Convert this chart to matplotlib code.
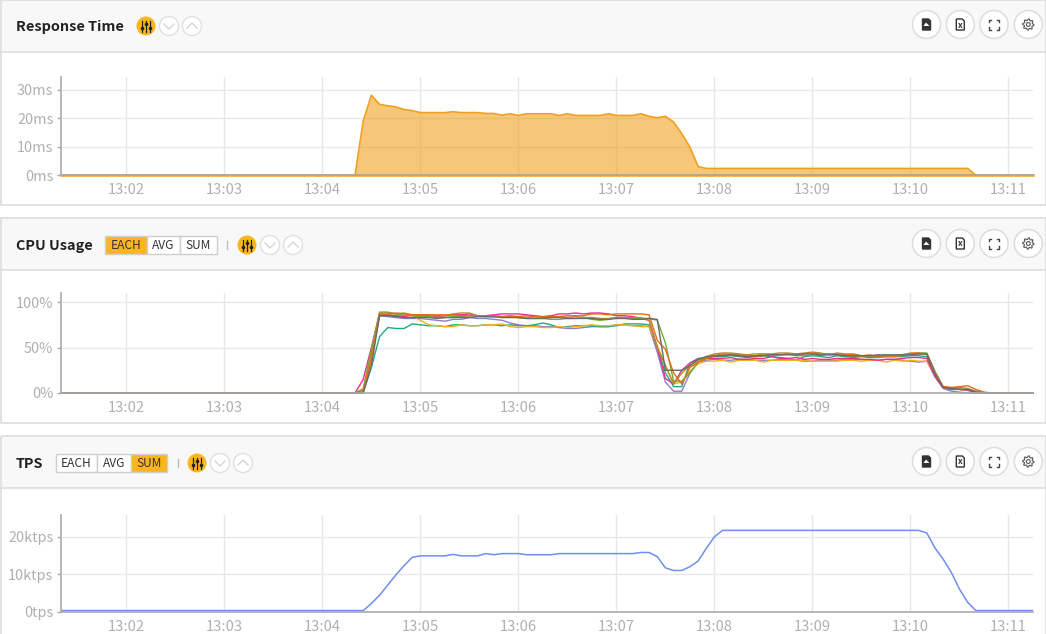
#Recreate the Response Time / CPU Usage / TPS dashboard panels
import matplotlib
matplotlib.use('Agg')
import matplotlib.pyplot as plt
import numpy as np
from matplotlib.patches import Circle, Rectangle, Polygon

plt.rcParams['font.family'] = ['Noto Sans CJK KR', 'DejaVu Sans']

#Figure size in pixels
W = 1046
H = 634

#Time axis is in seconds after 13:00
x_start = 80
x_end = 675
tick_seconds = [120, 180, 240, 300, 360, 420, 480, 540, 600, 660]
tick_labels = ['13:02', '13:03', '13:04', '13:05', '13:06', '13:07', '13:08', '13:09', '13:10', '13:11']

#Response time in ms, every 5s from 13:04:20 to 13:07:55
resp_ms = [0, 19, 28, 24.8, 24.3, 23.9, 23, 22.6,
           21.9, 21.9, 21.9, 21.9, 22.2, 21.9, 21.9, 21.9, 21.6, 21.6, 21.0, 21.5,
           20.9, 21.5, 21.5, 21.5, 21.5, 20.9, 21.5, 20.9, 20.9, 20.9, 20.9, 21.5,
           20.9, 20.9, 20.9, 21.5, 20.6, 20.1, 20.6, 18.6, 14.5, 9.8, 3, 2.3]
#flat part up to the drop at 13:10:40
resp_flat_end = [635, 2.3]
resp_end = [640, 0]

#CPU usage per server in %, every 5s from 13:04:15 to 13:10:50
cpu_purple = [0, 0, 4, 40, 85, 84, 83, 82, 82,
              82, 81, 80, 79, 81, 81, 83, 82, 82, 81, 80, 77,
              75, 74, 74, 73, 73, 72, 71, 71, 72, 73, 73, 73,
              75, 75, 74, 74, 73, 45, 12, 2, 2, 22, 34, 36,
              37, 36, 36, 37, 37, 36, 36, 36, 37, 37, 36, 35,
              35, 36, 36, 36, 37, 37, 37, 36, 36, 37, 37, 36,
              35, 34, 35, 18, 5, 2, 1, 0, 0, 0, 0]
cpu_teal = [0, 0, 1, 28, 62, 72, 71, 71, 76,
            75, 74, 74, 73, 75, 75, 74, 74, 75, 75, 74, 75,
            74, 74, 75, 77, 75, 72, 73, 74, 74, 74, 73, 73,
            74, 76, 76, 76, 75, 50, 22, 7, 7, 33, 38, 39,
            40, 40, 41, 40, 39, 40, 41, 40, 39, 38, 36, 40,
            41, 40, 39, 41, 40, 39, 40, 39, 39, 40, 40, 40,
            41, 41, 40, 20, 6, 4, 4, 3, 1, 0, 0]
cpu_yellow = [0, 0, 5, 45, 86, 86, 85, 85, 85,
              80, 75, 74, 73, 73, 75, 74, 74, 75, 75, 76, 73,
              72, 73, 73, 72, 72, 73, 72, 73, 74, 75, 74, 74,
              75, 75, 74, 73, 73, 52, 30, 10, 12, 24, 32, 35,
              35, 36, 34, 36, 36, 36, 34, 36, 36, 36, 36, 36,
              35, 35, 35, 35, 36, 36, 35, 36, 36, 34, 36, 35,
              36, 35, 35, 20, 7, 5, 4, 3, 1, 0, 0]
cpu_pink = [0, 0, 15, 50, 87, 86, 85, 84, 86,
            85, 85, 84, 85, 86, 86, 87, 85, 85, 86, 87, 87,
            87, 86, 85, 84, 85, 87, 87, 88, 87, 88, 88, 87,
            85, 85, 84, 82, 80, 50, 16, 10, 25, 33, 37, 38,
            38, 38, 39, 37, 37, 38, 38, 40, 38, 38, 39, 37,
            38, 37, 37, 38, 38, 38, 37, 37, 36, 37, 37, 38,
            39, 39, 38, 18, 6, 4, 4, 3, 1, 0, 0]
cpu_lime = [0, 0, 4, 48, 89, 89, 87, 86, 85,
            84, 84, 83, 83, 84, 84, 85, 85, 84, 84, 84, 84,
            83, 82, 82, 82, 81, 81, 82, 82, 83, 81, 80, 81,
            83, 83, 82, 82, 82, 80, 55, 13, 13, 22, 34, 38,
            41, 43, 43, 42, 41, 41, 43, 42, 42, 43, 41, 41,
            42, 41, 43, 42, 42, 40, 41, 40, 40, 41, 41, 42,
            43, 44, 44, 24, 7, 6, 6, 5, 2, 0, 0]
cpu_brown = [0, 0, 3, 42, 88, 88, 87, 88, 86,
             86, 86, 85, 85, 87, 88, 88, 85, 85, 84, 84, 84,
             83, 83, 84, 83, 83, 84, 83, 84, 83, 83, 82, 82,
             83, 83, 83, 83, 80, 50, 30, 10, 22, 30, 36, 40,
             43, 44, 44, 43, 42, 43, 43, 43, 44, 44, 43, 44,
             45, 44, 42, 44, 43, 43, 41, 42, 40, 40, 40, 41,
             43, 43, 43, 22, 6, 5, 4, 4, 2, 0, 0]
cpu_orange = [0, 0, 1, 36, 86, 87, 88, 87, 86,
              86, 86, 86, 86, 86, 85, 85, 85, 85, 85, 84, 85,
              84, 85, 84, 84, 84, 84, 85, 85, 85, 87, 87, 86,
              87, 87, 87, 87, 86, 58, 48, 22, 10, 28, 34, 38,
              41, 42, 42, 42, 41, 40, 41, 42, 42, 43, 43, 43,
              44, 43, 43, 43, 42, 42, 41, 41, 41, 41, 41, 42,
              44, 44, 43, 22, 7, 6, 7, 8, 4, 1, 0]
cpu_gray = [0, 0, 0, 30, 85, 85, 84, 83, 83,
            83, 83, 82, 83, 83, 83, 83, 84, 84, 84, 83, 83,
            83, 82, 82, 82, 83, 83, 82, 82, 82, 82, 81, 81,
            82, 82, 81, 81, 82, 81, 25, 25, 25, 30, 37, 40,
            41, 41, 42, 41, 40, 41, 41, 42, 42, 42, 42, 43,
            43, 42, 42, 42, 41, 41, 41, 41, 42, 42, 42, 42,
            42, 43, 43, 21, 6, 5, 4, 4, 1, 0, 0]
cpu_series = [cpu_purple, cpu_teal, cpu_yellow, cpu_pink, cpu_lime, cpu_brown, cpu_orange, cpu_gray]
cpu_colors = ['#8a7fc8', '#1faa80', '#f2b01e', '#e8308c', '#6cae30', '#b8892e', '#e66a1c', '#6a6a6a']

#TPS in ktps, every 5s from 13:04:25 to 13:08:05
tps_rise = [0.3, 2.2, 4.4, 7.1, 9.8, 12.3, 14.5,
            14.9, 14.9, 14.9, 14.9, 15.3, 14.9, 14.9, 14.9, 15.5, 15.2, 15.5, 15.5,
            15.5, 15.2, 15.2, 15.2, 15.2, 15.5, 15.5, 15.5, 15.5, 15.5, 15.5, 15.5,
            15.5, 15.5, 15.5, 15.8, 15.8, 14.7, 11.7, 11, 11, 12, 13.5, 16.9,
            20, 21.7]
#from 13:10:05 to 13:10:40
tps_fall = [21.7, 21, 17, 14, 10.5, 6, 2.5, 0.3]
tps_base = 0.3

fig = plt.figure(figsize=(W / 100, H / 100), dpi=100, facecolor='white')

#Background axes in pixel coordinates for the panel chrome
bg = fig.add_axes([0, 0, 1, 1], zorder=0)
bg.set_xlim(0, W)
bg.set_ylim(H, 0)
bg.axis('off')

DARK = '#333333'
LINE = '#dddddd'
YELLOW = '#fdb51f'


def panel(top, bottom, head):
    bg.add_patch(Rectangle((0.5, top), W - 1, head - top, fc='#f8f8f8', ec='none'))
    bg.add_patch(Rectangle((0.5, top), W - 1, bottom - top, fc='none', ec=LINE, lw=1.2))
    bg.plot([0, W], [head, head], color=LINE, lw=1.2)


def sliders(cx, cy):
    bg.add_patch(Circle((cx, cy), 9.5, fc=YELLOW, ec='none'))
    for dx, ky in zip([-3.7, 0, 3.7], [2, -2.5, 1.5]):
        bg.plot([cx + dx, cx + dx], [cy - 5.5, cy + 5.5], color='#222222', lw=0.9)
        bg.plot([cx + dx], [cy + ky], marker='o', ms=2.6, color='#222222', mew=0)


def chevron(cx, cy, up):
    sign = -1 if up else 1
    bg.add_patch(Circle((cx, cy), 9.5, fc='white', ec='#e0e0e0', lw=1))
    bg.plot([cx - 5, cx, cx + 5], [cy - 2 * sign, cy + 3 * sign, cy - 2 * sign], color='#d4d4d4', lw=1)


def right_icons(cy):
    for cx in [926.5, 960.3, 994, 1028.3]:
        bg.add_patch(Circle((cx, cy), 14, fc='white', ec='#dddddd', lw=1.1))
    #image file
    for cx in [926.5, 960.3]:
        bg.add_patch(Polygon([(cx - 4, cy - 5.5), (cx + 2, cy - 5.5), (cx + 4, cy - 3.5), (cx + 4, cy + 5.5), (cx - 4, cy + 5.5)],
                             fc=DARK if cx < 950 else 'white', ec=DARK, lw=1))
    bg.add_patch(Polygon([(923.5, cy + 1.5), (926, cy - 2), (929.5, cy + 1.5)], fc='white', ec='none'))
    bg.text(960.3, cy + 0.5, 'x', ha='center', va='center', fontsize=6, color=DARK, fontweight='bold')
    #fullscreen corners
    cx = 994
    for sx in [-1, 1]:
        for sy in [-1, 1]:
            bg.plot([cx + sx * 2.8, cx + sx * 5.2, cx + sx * 5.2], [cy + sy * 5, cy + sy * 5, cy + sy * 2.6],
                    color='#444444', lw=1)
    #gear
    ang = np.linspace(0, 2 * np.pi, 32, endpoint=False)
    rad = np.where(np.arange(32) % 4 < 2, 5.6, 4.2)
    bg.add_patch(Polygon(np.column_stack([1028.3 + rad * np.cos(ang), cy + rad * np.sin(ang)]), fc='none', ec='#555555', lw=0.8))
    bg.add_patch(Circle((1028.3, cy), 1.9, fc='none', ec='#555555', lw=0.8))


def buttons(x0, cy, widths, labels, active):
    x = x0
    for w, lab in zip(widths, labels):
        on = lab == active
        bg.add_patch(Rectangle((x, cy - 9), w, 18, fc=YELLOW if on else 'white', ec='#cfcfcf', lw=1))
        bg.text(x + w / 2, cy + 0.8, lab, ha='center', va='center', fontsize=8.6, color=DARK)
        x += w


def head(title, cy, slider_x):
    bg.text(16, cy + 1.2, title, ha='left', va='center', fontsize=10.4, fontweight='bold', color='#222222')
    sliders(slider_x, cy)
    chevron(slider_x + 23, cy, False)
    chevron(slider_x + 46, cy, True)
    right_icons(cy - 1.5)


panel(0, 205, 52)
panel(218, 423, 270)
panel(436, 640, 488)

head('Response Time', 26, 146)
head('CPU Usage', 245, 247)
buttons(105, 245, [42, 33, 37], ['EACH', 'AVG', 'SUM'], 'EACH')
bg.plot([227, 227], [241, 249], color='#bbbbbb', lw=1)
head('TPS', 463, 197)
buttons(56, 463, [41, 34, 36], ['EACH', 'AVG', 'SUM'], 'SUM')
bg.plot([177.5, 177.5], [459, 467], color='#bbbbbb', lw=1)


def chart(top, base, ymax, ticks, labels):
    ax = fig.add_axes([61 / W, 1 - base / H, (1033 - 61) / W, (base - top) / H], zorder=1)
    ax.patch.set_alpha(0)
    ax.set_xlim(x_start, x_end)
    ax.set_ylim(0, ymax)
    ax.set_xticks(tick_seconds)
    ax.set_xticklabels(tick_labels)
    ax.set_yticks(ticks)
    ax.set_yticklabels(labels)
    ax.grid(True, color='#e8e8e8', lw=1)
    ax.set_axisbelow(True)
    for s in ['top', 'right']:
        ax.spines[s].set_visible(False)
    for s in ['left', 'bottom']:
        ax.spines[s].set_color('#aaaaaa')
        ax.spines[s].set_linewidth(1.2)
    ax.tick_params(axis='x', length=0, pad=6, labelsize=10.6, labelcolor='#b0b0b0')
    ax.tick_params(axis='y', length=3, width=1, color='#aaaaaa', pad=2.5, labelsize=10.4, labelcolor='#b0b0b0')
    return ax


#Response time
ax1 = chart(77, 175, 34.4, [0, 10, 20, 30], ['0ms', '10ms', '20ms', '30ms'])
t = [x_start] + list(260 + 5 * np.arange(len(resp_ms))) + resp_flat_end[:1] + resp_end[:1] + [x_end]
y = [0] + resp_ms + resp_flat_end[1:] + resp_end[1:] + [0]
ax1.fill_between(t, y, 0, color='#f0a020', alpha=0.6, lw=0)
ax1.plot(t, y, color='#f0a020', lw=1.2, clip_on=False)
ax1.plot([x_start, x_end], [0, 0], color='#f0a020', lw=1.8, clip_on=False)

#CPU
ax2 = chart(293, 393, 110, [0, 50, 100], ['0%', '50%', '100%'])
cpu_t = 255 + 5 * np.arange(len(cpu_purple))
for vals, col in zip(cpu_series, cpu_colors):
    ax2.plot([x_start] + list(cpu_t) + [x_end], [0] + vals + [0], color=col, lw=1, clip_on=False)

#TPS
ax3 = chart(515, 611.7, 25.8, [0, 10, 20], ['0tps', '10ktps', '20ktps'])
t = [x_start] + list(265 + 5 * np.arange(len(tps_rise))) + list(605 + 5 * np.arange(len(tps_fall))) + [x_end]
y = [tps_base] + tps_rise + tps_fall + [tps_base]
ax3.plot(t, y, color='#6f8ff0', lw=1.1)

fig.savefig('out.png', dpi=100)
